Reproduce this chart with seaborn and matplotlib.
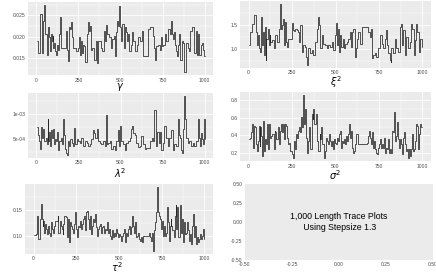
import numpy as np
import matplotlib
matplotlib.use("Agg")
import matplotlib.pyplot as plt
from matplotlib.ticker import FixedLocator, MultipleLocator, FixedFormatter
import seaborn as sns

sns.set_theme(style="darkgrid")
plt.rcParams['font.family'] = ['Liberation Sans', 'DejaVu Sans']
plt.rcParams['mathtext.fontset'] = 'dejavusans'

# ---------------- data ----------------
x_ticks = [0, 250, 500, 750, 1000]
x_ticklabels = ["0", "250", "500", "750", "1000"]

gamma_iter = [1, 12, 23, 31, 37, 45, 53, 60, 64, 70,
              76, 80, 84, 90, 96, 99, 107, 111, 115, 123,
              129, 135, 140, 146, 177, 181, 187, 193, 201, 207,
              213, 216, 236, 248, 252, 257, 263, 269, 275, 283,
              291, 298, 304, 310, 318, 324, 333, 343, 353, 363,
              369, 382, 392, 402, 408, 415, 421, 431, 441, 450,
              460, 466, 472, 480, 488, 493, 499, 505, 511, 519,
              525, 530, 536, 542, 548, 564, 569, 577, 587, 597,
              606, 616, 626, 632, 665, 675, 696, 702, 708, 714,
              723, 733, 743, 749, 755, 762, 772, 782, 792, 801,
              807, 813, 819, 825, 831, 837, 842, 850, 856, 864,
              874, 879, 887, 899, 909, 915, 928, 938, 946, 954,
              961, 969, 977, 985, 991, 996, 1000]
gamma_vals = [.0190, .0161, .0254, .0161, .0238, .0274, .0206, .0198, .0157, .0222,
              .0198, .0165, .0206, .0190, .0202, .0173, .0185, .0165, .0157, .0181,
              .0169, .0206, .0246, .0173, .0214, .0169, .0143, .0222, .0218, .0234,
              .0198, .0173, .0165, .0173, .0198, .0157, .0190, .0161, .0181, .0177,
              .0141, .0206, .0234, .0214, .0226, .0169, .0173, .0145, .0190, .0137,
              .0190, .0173, .0165, .0214, .0190, .0227, .0206, .0198, .0173, .0194,
              .0202, .0153, .0210, .0238, .0226, .0272, .0222, .0190, .0230, .0173,
              .0222, .0210, .0190, .0206, .0165, .0181, .0210, .0190, .0165, .0181,
              .0198, .0190, .0214, .0153, .0218, .0222, .0202, .0173, .0145, .0177,
              .0181, .0169, .0198, .0177, .0181, .0206, .0190, .0218, .0206, .0238,
              .0206, .0194, .0210, .0181, .0165, .0153, .0181, .0206, .0145, .0190,
              .0185, .0117, .0185, .0173, .0165, .0214, .0222, .0161, .0214, .0157,
              .0206, .0157, .0181, .0185, .0169, .0153, .0153]
gamma_ticks = [0.015, 0.020, 0.025]
gamma_ticklabels = ["0.015", "0.020", "0.025"]

xi_iter = [0, 10, 19, 29, 44, 48, 54, 57, 63, 71,
           76, 82, 86, 92, 98, 101, 109, 115, 120, 124,
           134, 143, 153, 163, 172, 178, 182, 187, 191, 197,
           201, 206, 210, 216, 220, 229, 249, 254, 262, 268,
           277, 283, 289, 296, 306, 315, 325, 331, 338, 344,
           354, 363, 373, 382, 392, 398, 403, 411, 421, 430,
           440, 449, 459, 468, 478, 488, 497, 503, 507, 512,
           518, 526, 532, 541, 549, 554, 564, 574, 583, 589,
           595, 602, 612, 618, 625, 631, 641, 650, 688, 698,
           704, 709, 717, 727, 736, 746, 755, 765, 774, 784,
           790, 797, 803, 813, 818, 822, 832, 841, 851, 860,
           870, 876, 881, 889, 899, 908, 918, 927, 933, 943,
           950, 958, 966, 971, 981, 989, 996, 1000]
xi_vals = [1.095, 1.352, 1.521, 1.703, 1.352, 1.081, 1.284, 1.014, 0.946, 1.656,
           1.081, 1.352, 0.878, 1.453, 0.777, 1.216, 1.419, 1.081, 1.284, 1.149,
           1.183, 1.014, 1.284, 1.149, 1.419, 1.554, 1.926, 1.419, 1.487, 1.622,
           1.216, 1.081, 1.554, 1.149, 1.047, 1.216, 1.541, 1.385, 1.365, 1.419,
           1.385, 1.352, 1.149, 1.487, 0.946, 1.081, 1.047, 0.845, 0.676, 1.014,
           0.912, 0.980, 0.878, 1.149, 1.419, 1.656, 1.487, 1.014, 1.284, 1.115,
           1.081, 1.014, 1.081, 1.047, 1.149, 0.980, 1.284, 1.541, 1.081, 1.419,
           0.946, 1.284, 1.047, 1.216, 1.014, 1.115, 1.149, 1.216, 1.352, 1.047,
           1.352, 1.419, 0.845, 1.014, 1.216, 1.352, 1.115, 1.453, 1.352, 1.250,
           1.419, 0.811, 0.878, 0.912, 0.845, 1.014, 1.284, 1.115, 1.014, 1.216,
           1.385, 1.081, 0.912, 0.777, 0.743, 1.014, 0.912, 1.216, 1.014, 0.946,
           1.453, 1.521, 1.081, 1.385, 0.878, 1.250, 1.014, 1.149, 1.521, 1.419,
           0.878, 1.183, 1.521, 1.352, 0.946, 1.216, 1.047, 1.047]
xi_ticks = [1.0, 1.5]
xi_ticklabels = ["1.0", "1.5"]

lam_iter = [2, 12, 18, 24, 28, 35, 41, 47, 55, 61,
            67, 71, 75, 81, 87, 91, 97, 103, 108, 114,
            120, 126, 136, 144, 150, 156, 160, 166, 172, 177,
            183, 189, 195, 201, 209, 219, 225, 231, 239, 248,
            258, 268, 278, 288, 298, 308, 317, 327, 337, 343,
            351, 359, 367, 377, 387, 396, 406, 412, 418, 426,
            436, 446, 456, 465, 475, 485, 491, 497, 505, 515,
            525, 534, 544, 554, 560, 568, 574, 584, 594, 603,
            613, 623, 633, 643, 653, 678, 686, 692, 702, 710,
            718, 726, 734, 741, 751, 761, 771, 781, 791, 801,
            810, 820, 830, 840, 846, 854, 860, 864, 870, 876,
            883, 889, 899, 909, 919, 929, 939, 949, 958, 964,
            970, 978, 984, 990, 996, 1000]
lam_vals_e4 = [7.41, 5.90, 4.70, 3.19, 7.41, 5.30, 7.11, 4.70, 5.30, 4.10,
               9.03, 4.70, 6.51, 3.80, 6.81, 5.30, 6.99, 4.10, 5.00, 4.70,
               6.51, 2.89, 4.70, 5.30, 4.10, 7.11, 8.91, 5.90, 3.19, 2.29,
               1.99, 4.70, 3.80, 5.00, 4.40, 3.80, 7.23, 4.10, 5.00, 4.70,
               4.40, 5.30, 3.80, 4.70, 4.40, 3.80, 4.10, 5.00, 6.81, 6.20,
               5.30, 7.11, 4.70, 4.40, 4.10, 4.70, 3.80, 9.82, 4.10, 4.40,
               4.70, 3.19, 3.80, 2.89, 4.70, 6.81, 3.80, 7.71, 4.70, 4.10,
               2.89, 4.40, 4.70, 5.30, 7.11, 7.71, 6.20, 5.90, 4.40, 3.50,
               3.80, 5.60, 4.10, 3.19, 3.31, 4.70, 5.30, 4.70, 10.72, 3.80,
               6.51, 4.40, 6.51, 2.89, 4.40, 7.71, 5.30, 3.80, 5.30, 6.81,
               2.89, 4.10, 3.80, 8.91, 5.90, 5.30, 2.89, 2.29, 7.11, 13.43,
               8.91, 5.30, 4.40, 4.70, 3.80, 4.40, 3.80, 4.70, 8.91, 5.30,
               3.80, 6.20, 5.00, 4.10, 8.91, 5.00]
lam_ticks = [5e-4, 1e-3]
lam_ticklabels = ["5e-04", "1e-03"]

sig_iter = [4, 10, 13, 19, 25, 29, 36, 42, 48, 51,
            57, 63, 67, 72, 76, 80, 86, 90, 95, 101,
            105, 110, 114, 118, 124, 131, 137, 143, 149, 154,
            160, 166, 171, 177, 181, 185, 191, 196, 204, 210,
            215, 223, 229, 234, 240, 248, 253, 259, 265, 270,
            276, 282, 288, 293, 299, 305, 311, 316, 322, 328,
            333, 339, 345, 351, 356, 362, 368, 373, 379, 385,
            391, 396, 402, 408, 413, 419, 425, 431, 436, 442,
            448, 453, 459, 465, 471, 476, 482, 488, 493, 499,
            505, 511, 516, 522, 528, 533, 539, 545, 551, 556,
            562, 568, 573, 579, 585, 591, 596, 602, 608, 613,
            619, 632, 680, 690, 695, 701, 707, 712, 718, 724,
            730, 735, 741, 747, 752, 758, 764, 770, 775, 781,
            787, 792, 798, 804, 810, 815, 821, 827, 832, 838,
            844, 850, 855, 861, 867, 872, 878, 884, 890, 895,
            901, 907, 912, 918, 924, 930, 935, 941, 947, 952,
            958, 964, 970, 975, 981, 987, 991, 1000]
sig_vals = [0.358, 0.377, 0.434, 0.528, 0.264, 0.509, 0.491, 0.302, 0.226, 0.340,
            0.509, 0.283, 0.491, 0.396, 0.170, 0.566, 0.321, 0.226, 0.358, 0.302,
            0.528, 0.415, 0.245, 0.528, 0.377, 0.396, 0.415, 0.245, 0.453, 0.434,
            0.358, 0.453, 0.491, 0.302, 0.453, 0.528, 0.434, 0.528, 0.358, 0.528,
            0.509, 0.377, 0.302, 0.321, 0.226, 0.189, 0.151, 0.340, 0.245, 0.415,
            0.377, 0.453, 0.491, 0.434, 0.604, 0.491, 0.849, 0.528, 0.698, 0.377,
            0.208, 0.340, 0.491, 0.453, 0.245, 0.642, 0.585, 0.698, 0.528, 0.642,
            0.566, 0.340, 0.226, 0.415, 0.358, 0.491, 0.302, 0.245, 0.151, 0.226,
            0.377, 0.340, 0.302, 0.415, 0.340, 0.283, 0.340, 0.245, 0.358, 0.321,
            0.302, 0.377, 0.340, 0.415, 0.453, 0.264, 0.340, 0.321, 0.358, 0.302,
            0.396, 0.340, 0.415, 0.528, 0.377, 0.453, 0.264, 0.208, 0.226, 0.302,
            0.415, 0.302, 0.321, 0.396, 0.453, 0.377, 0.302, 0.434, 0.264, 0.340,
            0.245, 0.208, 0.189, 0.264, 0.302, 0.358, 0.264, 0.302, 0.264, 0.377,
            0.208, 0.264, 0.245, 0.358, 0.208, 0.245, 0.208, 0.453, 0.434, 0.660,
            0.340, 0.396, 0.547, 0.358, 0.264, 0.358, 0.302, 0.189, 0.377, 0.434,
            0.302, 0.226, 0.245, 0.151, 0.245, 0.170, 0.245, 0.415, 0.226, 0.245,
            0.340, 0.528, 0.509, 0.245, 0.415, 0.528, 0.491, 0.491]
sig_ticks = [0.2, 0.4, 0.6, 0.8]
sig_ticklabels = ["0.2", "0.4", "0.6", "0.8"]

tau_iter = [0, 15, 21, 27, 35, 40, 46, 50, 54, 58,
            64, 69, 75, 79, 85, 91, 96, 102, 108, 112,
            118, 123, 141, 146, 152, 158, 164, 170, 175, 181,
            187, 193, 198, 204, 210, 216, 222, 227, 233, 239,
            245, 250, 256, 262, 268, 274, 279, 285, 291, 297,
            303, 308, 314, 320, 326, 331, 337, 343, 349, 355,
            360, 366, 372, 378, 383, 389, 395, 401, 407, 412,
            418, 424, 430, 436, 441, 447, 453, 459, 464, 470,
            476, 482, 488, 493, 499, 505, 511, 516, 522, 528,
            534, 540, 545, 551, 557, 563, 568, 574, 580, 586,
            592, 597, 603, 609, 615, 620, 626, 632, 638, 674,
            680, 686, 692, 698, 703, 709, 715, 721, 727, 732,
            738, 744, 750, 755, 761, 767, 773, 779, 784, 790,
            796, 802, 807, 813, 819, 825, 831, 836, 842, 848,
            854, 860, 865, 871, 877, 883, 888, 894, 900, 906,
            912, 917, 923, 929, 935, 940, 946, 952, 958, 964,
            969, 975, 981, 987, 992, 998, 1000]
tau_vals = [.101, .103, .138, .094, .097, .132, .161, .132, .119, .129,
            .106, .122, .113, .103, .119, .106, .100, .126, .113, .106,
            .119, .129, .138, .106, .129, .119, .113, .103, .122, .138,
            .135, .106, .097, .132, .087, .126, .119, .113, .106, .122,
            .145, .113, .097, .119, .116, .129, .113, .122, .132, .138,
            .110, .145, .148, .132, .113, .138, .103, .119, .132, .126,
            .142, .116, .100, .113, .119, .122, .106, .116, .119, .106,
            .113, .110, .126, .106, .113, .100, .094, .110, .097, .106,
            .100, .113, .106, .097, .103, .100, .090, .100, .106, .113,
            .087, .106, .100, .113, .119, .103, .116, .138, .119, .106,
            .126, .097, .100, .106, .094, .090, .097, .087, .100, .106,
            .097, .090, .106, .071, .110, .126, .145, .193, .145, .138,
            .132, .113, .129, .100, .119, .100, .106, .155, .126, .090,
            .119, .132, .119, .110, .097, .138, .158, .113, .155, .097,
            .158, .142, .106, .132, .087, .126, .103, .106, .126, .110,
            .090, .103, .084, .119, .142, .097, .119, .084, .097, .087,
            .094, .103, .094, .100, .113, .094, .094]
tau_ticks = [0.10, 0.15]
tau_ticklabels = ["0.10", "0.15"]

note_text = "1,000 Length Trace Plots\n Using Stepsize 1.3"
blank_ticks = [-0.50, -0.25, 0.00, 0.25, 0.50]
blank_ticklabels = ["-0.50", "-0.25", "0.00", "0.25", "0.50"]

# ---------------- figure ----------------
W, H = 436, 273
fig = plt.figure(figsize=(W / 100, H / 100), dpi=100)
fig.patch.set_facecolor("white")

PANEL = "#EBEBEB"
LINE = "#262626"
TXT = "#4D4D4D"


def place(l, t, r, b):
    return fig.add_axes([l / W, 1 - b / H, (r - l) / W, (b - t) / H])


def style(ax, grid=True):
    ax.set_facecolor(PANEL)
    for s in ax.spines.values():
        s.set_visible(False)
    ax.tick_params(which="major", labelsize=3.6, labelcolor=TXT, color="#333333",
                   length=1.2, width=0.5, pad=0.6)
    ax.tick_params(which="minor", length=0)
    ax.set_xlabel("")
    ax.set_ylabel("")
    if grid:
        ax.set_axisbelow(True)
        ax.grid(which="major", color="white", lw=0.6)
        ax.grid(which="minor", color="white", lw=0.3)
    else:
        ax.grid(False)


def trace(box, it, vals, yt, ytl, yminor, title, tpos):
    ax = place(*box)
    df_x = np.asarray(it, dtype=float)
    df_y = np.asarray(vals, dtype=float)
    sns.lineplot(x=df_x, y=df_y, ax=ax, color=LINE, linewidth=0.55,
                 drawstyle="steps-post", estimator=None, sort=False)
    ax.set_xlim(-50, 1050)
    ax.xaxis.set_major_locator(FixedLocator(x_ticks))
    ax.xaxis.set_major_formatter(FixedFormatter(x_ticklabels))
    ax.xaxis.set_minor_locator(MultipleLocator(125))
    ax.yaxis.set_major_locator(FixedLocator(yt))
    ax.yaxis.set_major_formatter(FixedFormatter(ytl))
    ax.yaxis.set_minor_locator(MultipleLocator(yminor))
    style(ax)
    fig.text(tpos[0] / W, 1 - tpos[1] / H, title, ha="center", va="center",
             fontsize=7, color="black")
    return ax


trace((28, 2, 213, 75), gamma_iter, gamma_vals, gamma_ticks, gamma_ticklabels,
      0.0025, r"$\gamma$", (120.5, 87))
trace((240, 1, 431, 68), xi_iter, xi_vals, xi_ticks, xi_ticklabels,
      0.25, r"$\xi^2$", (335.5, 82.2))
trace((28, 93, 213, 158), lam_iter, np.array(lam_vals_e4) * 1e-4, lam_ticks,
      lam_ticklabels, 2.5e-4, r"$\lambda^2$", (120.5, 173.5))
trace((240, 92, 431, 161), sig_iter, sig_vals, sig_ticks, sig_ticklabels,
      0.1, r"$\sigma^2$", (335.5, 175))
trace((25, 184, 213, 254), tau_iter, tau_vals, tau_ticks, tau_ticklabels,
      0.025, r"$\tau^2$", (117, 267.2))

# blank panel with note
axn = place(245, 184, 433, 260)
axn.set_xlim(-0.5, 0.5)
axn.set_ylim(-0.5, 0.5)
axn.xaxis.set_major_locator(FixedLocator(blank_ticks))
axn.xaxis.set_major_formatter(FixedFormatter(blank_ticklabels))
axn.yaxis.set_major_locator(FixedLocator(blank_ticks))
axn.yaxis.set_major_formatter(FixedFormatter(blank_ticklabels))
style(axn, grid=False)
axn.text(0, 0, note_text, ha="center", va="center", fontsize=6.3,
         color="black", linespacing=1.25)

fig.savefig("out.png", dpi=100, facecolor="white")
